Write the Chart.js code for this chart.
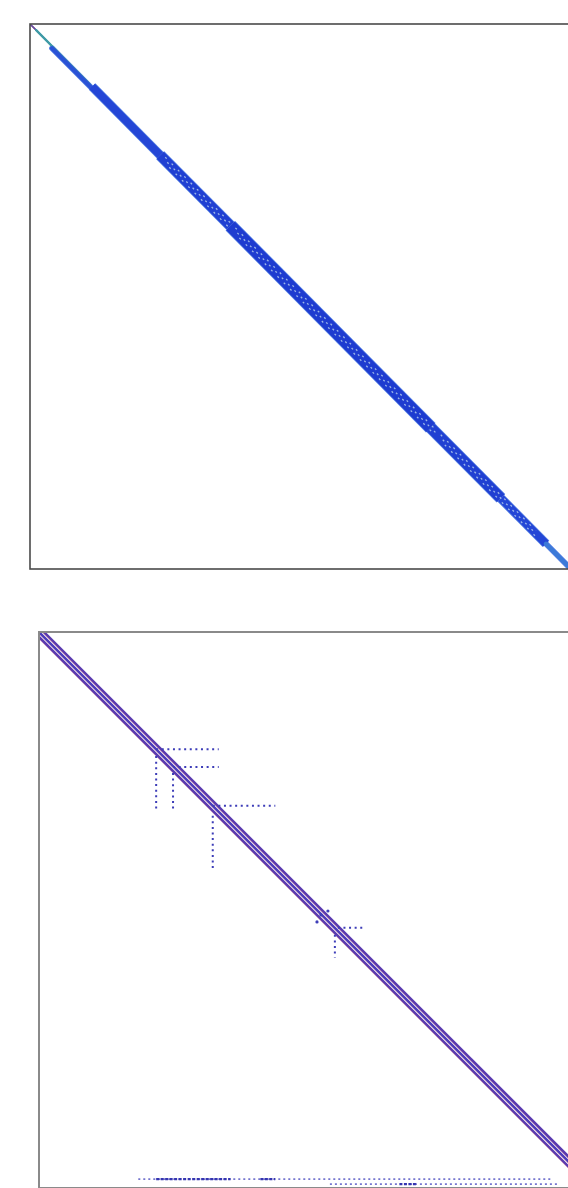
<!DOCTYPE html>
<html>
<head>
<meta charset="utf-8">
<script src="https://cdn.jsdelivr.net/npm/chart.js@4.4.1/dist/chart.umd.min.js"></script>
<style>
  html, body { margin: 0; padding: 0; background: #fff; overflow: hidden; width: 568px; height: 1188px; }
  canvas { position: absolute; }
  #topSpy { left: 28px; top: 22px; }
  #botSpy { left: 35px; top: 628px; }
</style>
</head>
<body>
<canvas id="topSpy" width="545" height="549"></canvas>
<canvas id="botSpy" width="564" height="564"></canvas>
<script>
// ---- top matrix: banded, bandwidth changes along the diagonal ----
const topN = 540;
const topBandFrom  = [0, 6, 22, 62, 130, 200, 400, 470, 515];
const topBandTo    = [6, 60, 62, 130, 200, 400, 470, 515, 540];
const topBandHalf  = [1, 1.5, 3, 5.5, 7, 8.5, 7.5, 5.5, 3];   // half bandwidth (columns)
const topBandShift = [0, 0, 2, 0, 0, 0, 0, 0, 0];              // sub-diagonal shift (rows)
// gaps inside the band (the light speckles)
const topGapFrom = [135, 205, 300, 410];
const topGapTo   = [200, 300, 405, 505];

// ---- bottom matrix: three diagonals plus a few arrow blocks ----
const botN = 560;
const botDiagOffsets = [-5, 0, 5];
const arrowRow     = [118, 136, 175, 298];
const arrowRowFrom = [118, 135, 175, 301];
const arrowRowTo   = [181, 181, 238, 327];
const arrowCol     = [118, 135, 175, 298];
const arrowColFrom = [125, 142, 185, 305];
const arrowColTo   = [181, 181, 238, 328];
const looseX = [291, 280, 284];
const looseY = [281, 292, 285];
const lastRows     = [551, 556];
const lastRowFrom  = [100, 293];
const lastRowTo    = [516, 523];
const denseRow     = [551, 551, 556];
const denseFrom    = [118, 223, 363];
const denseTo      = [193, 238, 380];

// styles
const topBandColors = ['#6b4c9c', '#3f9aa6', '#2a52d6', '#2446d6', '#2040d2', '#1e3cd0', '#2040d2', '#2446d6', '#3c7ad8'];

function frame(color, width) {
  return {
    id: 'frame',
    afterDraw(chart) {
      const a = chart.chartArea, c = chart.ctx;
      c.save();
      c.strokeStyle = color;
      c.lineWidth = width;
      c.strokeRect(a.left, a.top, a.right - a.left, a.bottom - a.top);
      c.restore();
    }
  };
}

// line width in pixels for a band of half width h (matrix columns) on the diagonal
function bandPx(chart, h) {
  const sx = chart.scales.x;
  const px = Math.abs(sx.getPixelForValue(h) - sx.getPixelForValue(0));
  return Math.max(1, 2 * px / Math.SQRT2);
}

function diagSeg(from, to, shift) {
  return [{ x: from, y: from + shift }, { x: to, y: to + shift }];
}

function baseOptions(n) {
  return {
    responsive: false,
    animation: false,
    devicePixelRatio: 1,
    layout: { padding: 2 },
    plugins: { legend: { display: false }, tooltip: { enabled: false } },
    scales: {
      x: { type: 'linear', min: 0, max: n, display: false },
      y: { type: 'linear', min: 0, max: n, reverse: true, display: false }
    },
    elements: { point: { radius: 0 }, line: { tension: 0 } }
  };
}

// top chart datasets (pushed bottom-to-top, reversed later since Chart.js paints index 0 last)
const topSets = [];
const capFor = i => (i < 3 || i === topBandFrom.length - 1) ? 'round' : 'butt';
topBandFrom.forEach((f, i) => {
  topSets.push({
    data: diagSeg(f, topBandTo[i], topBandShift[i]),
    showLine: true,
    borderColor: i < 2 ? topBandColors[i] : '#5580e4',
    borderCapStyle: capFor(i),
    borderWidth: ctx => bandPx(ctx.chart, topBandHalf[i]) + (i < 2 ? 0 : 1.5)
  });
});
topBandFrom.forEach((f, i) => {
  topSets.push({
    data: diagSeg(f, topBandTo[i], topBandShift[i]),
    showLine: true,
    borderColor: topBandColors[i],
    borderCapStyle: capFor(i),
    borderWidth: ctx => bandPx(ctx.chart, topBandHalf[i])
  });
});
topGapFrom.forEach((f, i) => {
  [-3, 0, 3].forEach((s, k) => {
    topSets.push({
      data: diagSeg(f + k * 2, topGapTo[i], s),
      showLine: true,
      borderColor: 'rgba(170,195,235,0.9)',
      borderWidth: 1.3,
      borderDash: [2, 7]
    });
  });
});
topSets.reverse();

new Chart(document.getElementById('topSpy'), {
  type: 'scatter',
  data: { datasets: topSets },
  options: baseOptions(topN),
  plugins: [frame('#4a4a4a', 1.6)]
});

// bottom chart datasets
const botSets = [];
function diagLine(off, shift) {
  const o = off + shift;
  return o >= 0
    ? [{ x: o, y: 0 }, { x: botN, y: botN - o }]
    : [{ x: 0, y: -o }, { x: botN + o, y: botN }];
}
botDiagOffsets.forEach(off => {
  // reddish fringe on the lower-left side
  botSets.push({
    data: diagLine(off, -1.2),
    showLine: true,
    borderColor: 'rgba(200,70,110,0.7)',
    borderWidth: 1.3
  });
});
botDiagOffsets.forEach(off => {
  botSets.push({
    data: diagLine(off, 0),
    showLine: true,
    borderColor: off === 0 ? '#4a3cbc' : '#5a3ab0',
    borderWidth: 2.4
  });
});
const dotStyle = { showLine: true, borderColor: '#3d3db8', borderWidth: 2, borderDash: [2, 3.6] };
arrowRow.forEach((r, i) => {
  botSets.push(Object.assign({ data: [{ x: arrowRowFrom[i], y: r }, { x: arrowRowTo[i], y: r }] }, dotStyle));
});
arrowCol.forEach((c, i) => {
  botSets.push(Object.assign({ data: [{ x: c, y: arrowColFrom[i] }, { x: c, y: arrowColTo[i] }] }, dotStyle));
});
lastRows.forEach((r, i) => {
  botSets.push({
    data: [{ x: lastRowFrom[i], y: r }, { x: lastRowTo[i], y: r }],
    showLine: true, borderColor: 'rgba(70,70,190,0.75)', borderWidth: 1.8, borderDash: [2, 3]
  });
});
denseRow.forEach((r, i) => {
  botSets.push({
    data: [{ x: denseFrom[i], y: r }, { x: denseTo[i], y: r }],
    showLine: true, borderColor: '#3535b0', borderWidth: 2.2, borderDash: [3, 1.5]
  });
});
botSets.push({
  data: looseX.map((x, i) => ({ x: x, y: looseY[i] })),
  showLine: false, pointRadius: 1.6, pointBackgroundColor: '#3d3db8', pointBorderWidth: 0
});
botSets.reverse();

new Chart(document.getElementById('botSpy'), {
  type: 'scatter',
  data: { datasets: botSets },
  options: baseOptions(botN),
  plugins: [frame('#8a8a8a', 2)]
});
</script>
</body>
</html>
